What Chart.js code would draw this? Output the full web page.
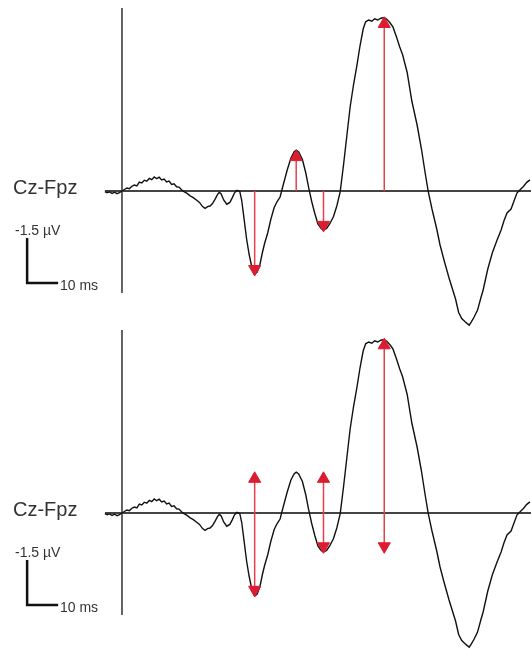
<!DOCTYPE html>
<html>
<head>
<meta charset="utf-8">
<script src="https://cdn.jsdelivr.net/npm/chart.js@4/dist/chart.umd.min.js"></script>
<style>
body { margin:0; background:#fff; width:531px; height:649px; overflow:hidden; position:relative;
       font-family:'Liberation Sans', Arial, sans-serif; color:#333; }
.panel { position:absolute; left:0; width:531px; height:327px; }
.panel canvas { position:absolute; left:0; top:0; }
.lead { position:absolute; left:13px; top:177px; font-size:20px; line-height:20px; }
.uv { position:absolute; left:15px; top:223px; font-size:14px; line-height:14px; }
.ms { position:absolute; left:60px; top:278px; font-size:14px; line-height:14px; }
</style>
</head>
<body>
<div class="panel" style="top:0px">
  <canvas id="chartTop" width="531" height="327"></canvas>
  <div class="lead">Cz-Fpz</div>
  <div class="uv">-1.5 µV</div>
  <div class="ms">10 ms</div>
</div>
<div class="panel" style="top:322px">
  <canvas id="chartBottom" width="531" height="327"></canvas>
  <div class="lead">Cz-Fpz</div>
  <div class="uv">-1.5 µV</div>
  <div class="ms">10 ms</div>
</div>
<script>
// recorded trace, time in ms, amplitude in µV (negative is drawn upward)
var timeMs = [-5.5, -4.8, -4.0, -3.2, -2.4, -1.6, -0.8, 0, 0.8, 1.6, 2.4, 3.2, 4.0, 4.8, 5.6, 6.4, 7.2, 8.0, 8.8, 9.6,
  10.4, 11.2, 12.0, 12.8, 13.6, 14.4, 15.2, 16.0, 16.8, 17.6, 18.4, 19.2, 20.0, 21.0, 22.0, 23.0, 24.0, 25.0, 26.0, 26.8,
  27.6, 28.4, 29.2, 30.0, 30.8, 31.4, 32.0, 32.8, 33.8, 34.8, 35.6, 36.3, 37.1, 38.0, 38.6, 39.3, 40.2, 41.0, 42.0, 42.8,
  43.6, 44.5, 45.3, 46.0, 47.0, 48.0, 49.1, 50.0, 51.0, 52.0, 53.3, 54.5, 55.5, 56.2, 57.0, 58.2, 59.3, 60.2, 61.2, 62.2,
  63.2, 64.3, 65.0, 66.0, 67.0, 68.2, 69.3, 70.4, 71.5, 72.6, 73.6, 74.7, 75.8, 76.8, 77.8, 78.6, 79.6, 80.6, 81.5, 82.5,
  83.5, 84.6, 85.5, 86.5, 87.4, 88.5, 89.6, 90.5, 92.0, 93.5, 95.2, 96.6, 97.8, 98.8, 100.0, 101.5, 102.6, 104.0, 105.5, 106.7,
  107.6, 108.6, 109.6, 110.6, 111.4, 112.0, 112.7, 113.6, 114.7, 115.8, 116.5, 118.0, 119.5, 121.0, 122.3, 123.2, 124.2, 125.5, 126.4, 127.4,
  128.5, 129.5, 130.5, 131.6]
var amplitudeUv = [0.02, 0.06, 0.03, 0.08, 0.04, 0.09, 0.05, 0.0, -0.05, -0.1, -0.08, -0.16, -0.2, -0.17, -0.3, -0.27, -0.36, -0.33, -0.42, -0.38,
  -0.47, -0.41, -0.46, -0.37, -0.4, -0.3, -0.33, -0.22, -0.24, -0.14, -0.13, -0.04, 0.02, 0.08, 0.16, 0.22, 0.3, 0.38, 0.52, 0.58,
  0.52, 0.5, 0.42, 0.28, 0.12, 0.04, 0.1, 0.3, 0.44, 0.38, 0.22, 0.06, -0.02, 0.02, 0.3, 0.86, 1.6, 2.1, 2.6, 2.77,
  2.7, 2.45, 2.05, 1.75, 1.4, 0.95, 0.55, 0.36, 0.2, -0.2, -0.7, -1.1, -1.3, -1.36, -1.3, -1.05, -0.6, -0.12, 0.35, 0.75,
  1.1, 1.26, 1.3, 1.25, 1.1, 0.86, 0.5, 0.02, -0.9, -1.9, -2.8, -3.55, -4.2, -4.85, -5.4, -5.64, -5.7, -5.66, -5.74, -5.7,
  -5.76, -5.78, -5.72, -5.6, -5.47, -5.15, -4.8, -4.55, -3.95, -3.0, -2.2, -1.4, -0.6, 0.02, 0.6, 1.25, 1.8, 2.35, 2.9, 3.3,
  3.6, 4.05, 4.25, 4.35, 4.42, 4.47, 4.36, 4.2, 3.97, 3.55, 3.3, 2.6, 2.05, 1.63, 1.3, 1.0, 0.73, 0.6, 0.35, 0.07,
  -0.05, -0.15, -0.28, -0.37]

var baselineMs = [-5.5, 132]
var axisUv = [-6.1, 3.4]
var scaleBarMs = [-30.6, -30.6, -20.6]
var scaleBarUv = [1.57, 3.07, 3.07]

// arrows: top panel from baseline, bottom panel peak-to-trough
var topArrowMs = [42.8, 56.2, 65.0, 84.6]
var topArrowFrom = [0, 0, 0, 0]
var topArrowTo = [2.6, -1.13, 1.13, -5.57]
var bottomArrowMs = [42.8, 65.0, 84.6]
var bottomArrowFrom = [-1.14, -1.14, -5.59]
var bottomArrowTo = [2.56, 1.11, 1.11]

function arrowSets(xs, from, to, bothEnds) {
  var sets = []
  for (var i = 0; i < xs.length; i++) {
    sets.push({
      data: [{x: xs[i], y: from[i]}, {x: xs[i], y: to[i]}],
      borderColor: '#e8404a',
      borderWidth: 1.5,
      pointStyle: 'triangle',
      pointRadius: [bothEnds ? 7 : 0, 7],
      pointRotation: [from[i] > to[i] ? 180 : 0, to[i] > from[i] ? 180 : 0],
      pointBackgroundColor: '#dc1c30',
      pointBorderColor: '#dc1c30',
      pointBorderWidth: 1
    })
  }
  return sets
}

function makePanel(id, arrows) {
  var trace = timeMs.map(function (t, i) { return {x: t, y: amplitudeUv[i]} })
  var bar = scaleBarMs.map(function (t, i) { return {x: t, y: scaleBarUv[i]} })
  var datasets = arrows.concat([
    {data: trace, borderColor: '#111', borderWidth: 1.4, pointRadius: 0},
    {data: [{x: baselineMs[0], y: 0}, {x: baselineMs[1], y: 0}], borderColor: '#444', borderWidth: 1.8, pointRadius: 0},
    {data: [{x: 0, y: axisUv[0]}, {x: 0, y: axisUv[1]}], borderColor: '#222', borderWidth: 1.4, pointRadius: 0},
    {data: bar, borderColor: '#111', borderWidth: 2.5, pointRadius: 0, borderJoinStyle: 'miter'}
  ])
  return new Chart(document.getElementById(id), {
    type: 'line',
    data: {datasets: datasets},
    options: {
      responsive: false,
      animation: false,
      events: [],
      layout: {padding: 0, autoPadding: false},
      plugins: {legend: {display: false}, tooltip: {enabled: false}},
      scales: {
        x: {type: 'linear', min: -39.35, max: 131.94, display: false},
        y: {type: 'linear', reverse: true, min: -6.367, max: 4.533, display: false}
      }
    }
  })
}

makePanel('chartTop', arrowSets(topArrowMs, topArrowFrom, topArrowTo, false))
makePanel('chartBottom', arrowSets(bottomArrowMs, bottomArrowFrom, bottomArrowTo, true))
</script>
</body>
</html>
